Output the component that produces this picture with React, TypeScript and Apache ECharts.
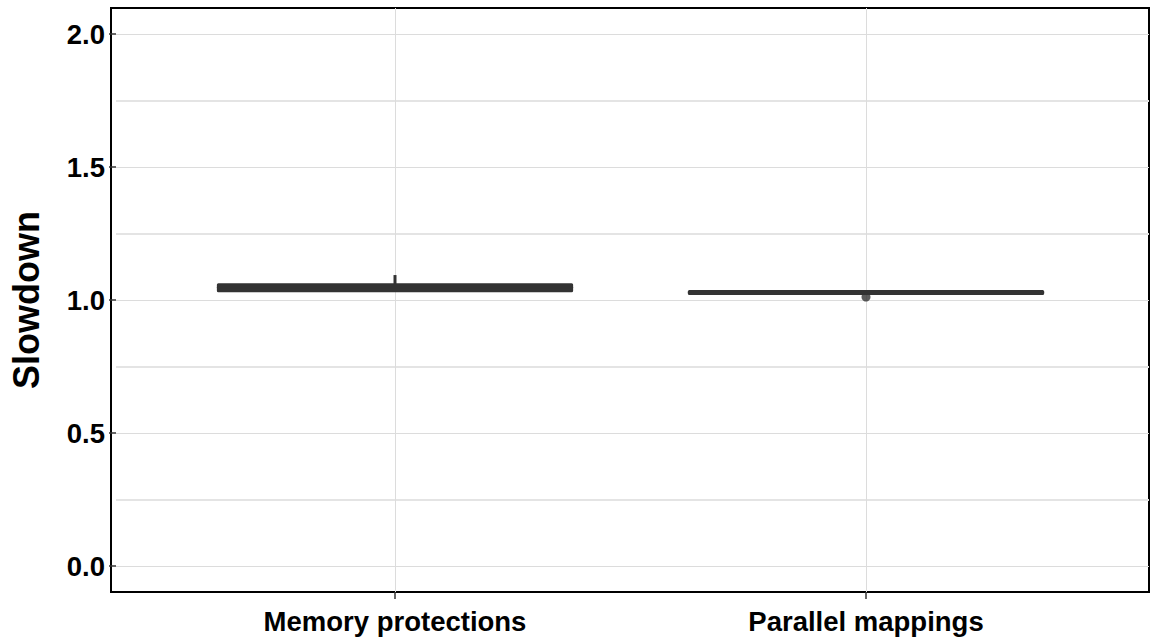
import React, { useEffect, useRef } from "react";
import * as echarts from "echarts";

const categories = ["Memory protections", "Parallel mappings"];
// [min, q1, median, q3, max]
const memoryProtections = [1.032, 1.035, 1.047, 1.057, 1.094];
const parallelMappings = [1.0245, 1.0245, 1.028, 1.032, 1.032];
// [category index, value]
const outliers = [[1, 1.011]];

const FONT = "Liberation Sans";
const INK = "#333333";

export default function App() {
  const ref = useRef<HTMLDivElement>(null);
  useEffect(() => {
    document.body.style.margin = "0";
    const chart = echarts.init(ref.current!, null, { renderer: "svg" });
    const boxData = [memoryProtections, parallelMappings].map((v, i) => [i, ...v]);
    chart.setOption({
      animation: false,
      backgroundColor: "#ffffff",
      grid: [
        { left: 111, right: 2, top: 8, bottom: 47, show: true, borderColor: "#000", borderWidth: 2, backgroundColor: "transparent" },
        { left: 111, right: 2, top: 34, bottom: 73 },
        { left: 395, right: 285, top: 8, bottom: 47 },
      ],
      xAxis: [
        { gridIndex: 0, type: "value", show: false },
        { gridIndex: 1, type: "value", show: false },
        {
          gridIndex: 2,
          type: "category",
          data: categories,
          boundaryGap: false,
          position: "bottom",
          axisLine: { show: false, onZero: false },
          axisTick: { show: true, length: 7, lineStyle: { color: INK, width: 1.5 } },
          axisLabel: { interval: 0, margin: 15, color: "#000", fontFamily: FONT, fontWeight: "bold", fontSize: 27.5 },
          splitLine: { show: true, lineStyle: { color: "#dcdcdc", width: 1 } },
        },
      ],
      yAxis: [
        { gridIndex: 0, type: "value", show: false },
        {
          gridIndex: 1,
          type: "value",
          min: 0,
          max: 2,
          interval: 0.5,
          name: "Slowdown",
          nameLocation: "middle",
          nameGap: 72,
          nameTextStyle: { color: "#000", fontFamily: FONT, fontWeight: "bold", fontSize: 36 },
          axisLine: { show: false },
          axisTick: { show: true, length: 7, lineStyle: { color: INK, width: 1.5 } },
          axisLabel: { margin: 11, color: "#000", fontFamily: FONT, fontWeight: "bold", fontSize: 27.5, formatter: (v: number) => v.toFixed(1) },
          splitLine: { show: true, lineStyle: { color: "#dcdcdc", width: 1 } },
          minorTick: { show: false, splitNumber: 2 },
          minorSplitLine: { show: true, lineStyle: { color: "#e4e4e4", width: 2 } },
        },
        { gridIndex: 2, type: "value", min: -0.1, max: 2.1, show: false },
      ],
      series: [
        {
          type: "custom",
          xAxisIndex: 2,
          yAxisIndex: 2,
          data: boxData,
          encode: { x: 0, y: [1, 2, 3, 4, 5] },
          renderItem: (params: any, api: any) => {
            const xi = api.value(0);
            const pMin = api.coord([xi, api.value(1)]);
            const pQ1 = api.coord([xi, api.value(2)]);
            const pMed = api.coord([xi, api.value(3)]);
            const pQ3 = api.coord([xi, api.value(4)]);
            const pMax = api.coord([xi, api.value(5)]);
            const w = api.size([1, 0])[0] * 0.75;
            const cx = pMed[0];
            const lw = 3;
            return {
              type: "group",
              children: [
                { type: "line", shape: { x1: cx, y1: pQ3[1], x2: cx, y2: pMax[1] }, style: { stroke: INK, lineWidth: lw } },
                { type: "line", shape: { x1: cx, y1: pQ1[1], x2: cx, y2: pMin[1] }, style: { stroke: INK, lineWidth: lw } },
                {
                  type: "rect",
                  shape: { x: cx - w / 2, y: pQ3[1], width: w, height: pQ1[1] - pQ3[1] },
                  style: { fill: "#3a3a3a", stroke: INK, lineWidth: lw, lineJoin: "round" },
                },
                { type: "line", shape: { x1: cx - w / 2, y1: pMed[1], x2: cx + w / 2, y2: pMed[1] }, style: { stroke: INK, lineWidth: lw, lineCap: "round" } },
              ],
            };
          },
        },
        {
          type: "scatter",
          xAxisIndex: 2,
          yAxisIndex: 2,
          data: outliers,
          symbol: "circle",
          symbolSize: 9,
          itemStyle: { color: INK },
        },
      ],
    });
    return () => chart.dispose();
  }, []);
  return <div ref={ref} style={{ position: "fixed", left: 0, top: 0, width: 1151, height: 639 }} />;
}
